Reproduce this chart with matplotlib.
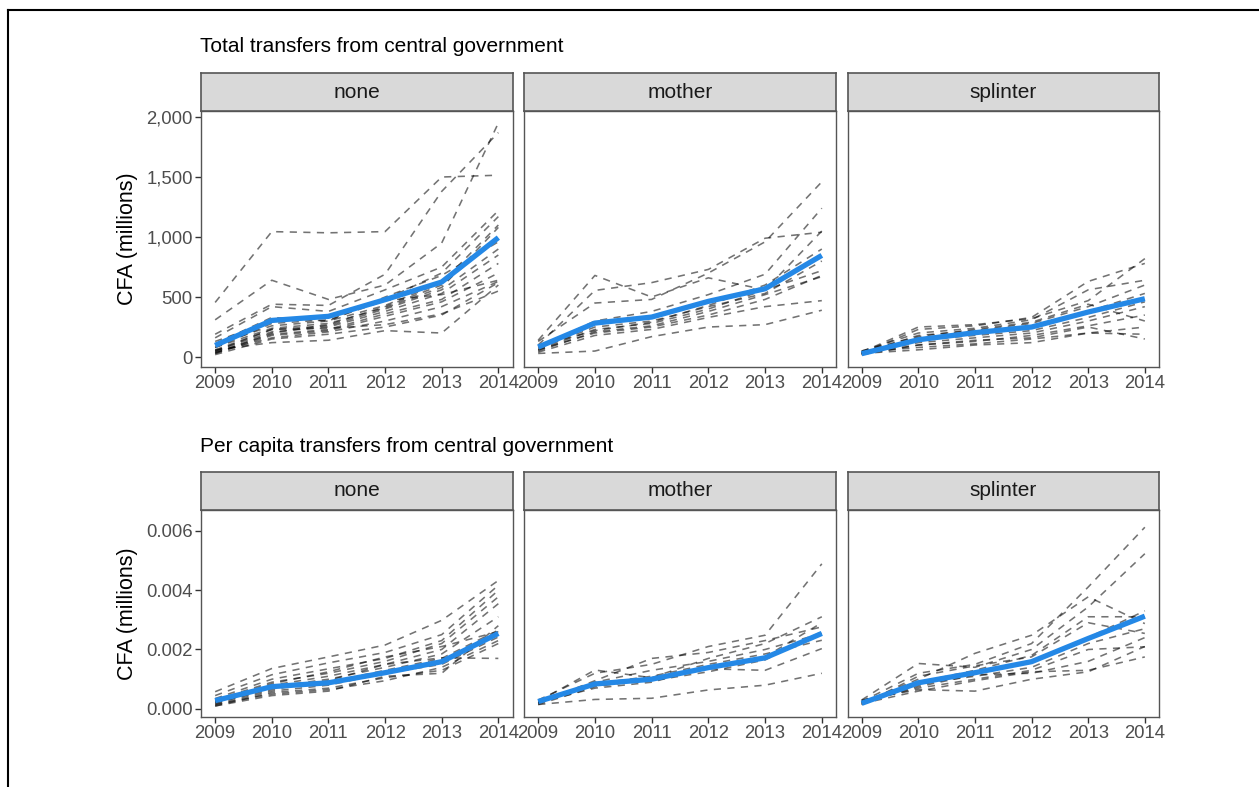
import matplotlib
matplotlib.use("Agg")
import matplotlib.pyplot as plt
from matplotlib.lines import Line2D
from matplotlib.ticker import FuncFormatter

plt.rcParams['font.family'] = ['Liberation Sans', 'DejaVu Sans']

years = [2009, 2010, 2011, 2012, 2013, 2014]
groups = ["none", "mother", "splinter"]

# Total transfers (CFA millions), one list per commune
total_none = [
    [455, 1045, 1035, 1045, 1500, 1515],
    [310, 640, 480, 600, 950, 1950],
    [190, 440, 430, 690, 1380, 1870],
    [160, 420, 380, 560, 750, 1220],
    [130, 300, 330, 480, 700, 1170],
    [100, 260, 300, 430, 620, 1100],
    [80, 240, 280, 410, 580, 1080],
    [60, 230, 260, 400, 560, 900],
    [50, 210, 250, 380, 530, 850],
    [40, 190, 230, 360, 480, 780],
    [30, 180, 220, 340, 460, 700],
    [40, 160, 210, 300, 420, 630],
    [20, 150, 190, 250, 350, 620],
    [60, 120, 140, 220, 200, 600],
    [30, 200, 270, 420, 600, 1000],
    [80, 280, 310, 470, 520, 640],
    [110, 330, 300, 500, 680, 960],
    [50, 230, 240, 270, 360, 550],
]
total_mother = [
    [130, 450, 480, 700, 960, 1460],
    [140, 680, 500, 660, 560, 1050],
    [100, 555, 620, 730, 990, 1040],
    [80, 300, 380, 520, 690, 1240],
    [60, 230, 280, 400, 560, 720],
    [50, 210, 260, 380, 520, 670],
    [40, 180, 230, 330, 420, 470],
    [30, 50, 170, 250, 270, 390],
    [70, 250, 300, 420, 530, 800],
    [60, 200, 250, 350, 480, 680],
    [90, 220, 290, 430, 600, 900],
]
total_splinter = [
    [40, 250, 270, 320, 470, 820],
    [30, 230, 260, 330, 630, 780],
    [50, 200, 240, 310, 560, 640],
    [30, 180, 220, 280, 420, 600],
    [40, 160, 200, 250, 380, 530],
    [20, 140, 180, 220, 330, 460],
    [30, 120, 160, 200, 300, 420],
    [20, 100, 130, 180, 260, 350],
    [40, 80, 110, 150, 200, 190],
    [30, 100, 140, 160, 250, 150],
    [50, 170, 230, 290, 440, 300],
    [30, 60, 100, 120, 200, 250],
]
total_mean = {
    "none": [97, 305, 339, 478, 625, 995],
    "mother": [83, 283, 333, 464, 569, 847],
    "splinter": [28, 144, 203, 250, 375, 486],
}

# Per capita transfers (CFA millions), one list per commune
pc_none = [
    [0.00058, 0.00136, 0.00175, 0.00215, 0.00298, 0.00432],
    [0.00045, 0.00115, 0.00155, 0.00190, 0.00250, 0.00416],
    [0.00035, 0.00100, 0.00135, 0.00170, 0.00230, 0.00399],
    [0.00030, 0.00090, 0.00120, 0.00160, 0.00220, 0.00377],
    [0.00025, 0.00080, 0.00110, 0.00150, 0.00200, 0.00354],
    [0.00030, 0.00075, 0.00100, 0.00140, 0.00185, 0.00310],
    [0.00020, 0.00070, 0.00090, 0.00130, 0.00170, 0.00265],
    [0.00015, 0.00060, 0.00080, 0.00120, 0.00150, 0.00242],
    [0.00010, 0.00055, 0.00070, 0.00105, 0.00130, 0.00220],
    [0.00020, 0.00065, 0.00095, 0.00150, 0.00172, 0.00170],
    [0.00025, 0.00085, 0.00125, 0.00175, 0.00210, 0.00260],
    [0.00015, 0.00050, 0.00065, 0.00095, 0.00140, 0.00230],
    [0.00010, 0.00045, 0.00060, 0.00110, 0.00120, 0.00280],
]
pc_mother = [
    [0.00030, 0.00120, 0.00150, 0.00210, 0.00248, 0.00488],
    [0.00025, 0.00131, 0.00105, 0.00170, 0.00220, 0.00310],
    [0.00020, 0.00095, 0.00170, 0.00190, 0.00230, 0.00276],
    [0.00025, 0.00090, 0.00130, 0.00160, 0.00200, 0.00254],
    [0.00020, 0.00085, 0.00110, 0.00150, 0.00185, 0.00231],
    [0.00015, 0.00075, 0.00100, 0.00135, 0.00130, 0.00203],
    [0.00020, 0.00080, 0.00095, 0.00125, 0.00165, 0.00260],
    [0.00015, 0.00032, 0.00036, 0.00064, 0.00080, 0.00120],
    [0.00022, 0.00070, 0.00090, 0.00140, 0.00175, 0.00290],
]
pc_splinter = [
    [0.00025, 0.00120, 0.00150, 0.00220, 0.00410, 0.00611],
    [0.00030, 0.00153, 0.00140, 0.00200, 0.00343, 0.00522],
    [0.00020, 0.00100, 0.00187, 0.00248, 0.00377, 0.00287],
    [0.00025, 0.00090, 0.00130, 0.00180, 0.00310, 0.00310],
    [0.00015, 0.00110, 0.00145, 0.00175, 0.00290, 0.00254],
    [0.00020, 0.00080, 0.00120, 0.00160, 0.00240, 0.00330],
    [0.00025, 0.00070, 0.00100, 0.00130, 0.00200, 0.00209],
    [0.00018, 0.00060, 0.00095, 0.00125, 0.00130, 0.00175],
    [0.00022, 0.00075, 0.00115, 0.00120, 0.00160, 0.00240],
    [0.00030, 0.00065, 0.00060, 0.00100, 0.00125, 0.00210],
    [0.00015, 0.00085, 0.00110, 0.00140, 0.00220, 0.00270],
]
pc_mean = {
    "none": [0.00028, 0.00075, 0.00088, 0.00122, 0.00159, 0.00254],
    "mother": [0.00025, 0.00084, 0.00100, 0.00139, 0.00172, 0.00254],
    "splinter": [0.00019, 0.00088, 0.00122, 0.00159, 0.00237, 0.00312],
}

total_ticks = [0, 500, 1000, 1500, 2000]
pc_ticks = [0.000, 0.002, 0.004, 0.006]

W, H = 1259, 787
fig = plt.figure(figsize=(W / 100, H / 100), dpi=100)

def px_axes(x0, y0, x1, y1):
    return fig.add_axes([x0 / W, 1 - y1 / H, (x1 - x0) / W, (y1 - y0) / H])

panel_x = [(201, 512.5), (524, 836), (847.5, 1159)]
rows = [
    dict(title="Total transfers from central government", strip=(73, 111), panel=(111, 367),
         data=[total_none, total_mother, total_splinter], mean=total_mean,
         ylim=(-83, 2050), ticks=total_ticks, fmt=lambda v, p: f"{int(v):,}", title_y=47),
    dict(title="Per capita transfers from central government", strip=(472, 510), panel=(510, 717),
         data=[pc_none, pc_mother, pc_splinter], mean=pc_mean,
         ylim=(-0.00027, 0.00669), ticks=pc_ticks, fmt=lambda v, p: f"{v:.3f}", title_y=447),
]

border_col = "#555555"
tick_col = "#4D4D4D"
blue = "#2488E6"

for row in rows:
    sy0, sy1 = row["strip"]
    py0, py1 = row["panel"]
    for i, (g, series) in enumerate(zip(groups, row["data"])):
        x0, x1 = panel_x[i]
        ax = px_axes(x0, py0, x1, py1)
        for s in series:
            ax.plot(years, s, color="black", alpha=0.55, lw=1.15,
                    linestyle=(0, (4.5, 4)))
        ax.plot(years, row["mean"][g], color=blue, lw=3.8, solid_capstyle="butt",
                solid_joinstyle="round")
        ax.set_xlim(2009 - 0.25, 2014 + 0.25)
        ax.set_ylim(*row["ylim"])
        ax.set_xticks(years)
        ax.set_yticks(row["ticks"])
        ax.yaxis.set_major_formatter(FuncFormatter(row["fmt"]))
        ax.tick_params(axis="both", direction="out", length=4, width=1.0,
                       color="#333333", labelcolor=tick_col, labelsize=13.3, pad=2)
        if i > 0:
            ax.tick_params(axis="y", left=False, labelleft=False)
        for sp in ax.spines.values():
            sp.set_color(border_col)
            sp.set_linewidth(1.0)
        ax.set_facecolor("white")
        if i == 0:
            ax.set_ylabel("CFA (millions)", fontsize=15.5, color="black", labelpad=6)

        sax = px_axes(x0, sy0, x1, sy1)
        sax.set_facecolor("#D9D9D9")
        sax.set_xticks([])
        sax.set_yticks([])
        for sp in sax.spines.values():
            sp.set_color(border_col)
            sp.set_linewidth(1.2)
        sax.text(0.5, 0.5, g, transform=sax.transAxes, ha="center", va="center",
                 fontsize=15, color="#1A1A1A")

    fig.text(200 / W, 1 - row["title_y"] / H, row["title"], ha="left", va="center",
             fontsize=15, color="black")

# frame lines along the top and left edges
fig.add_artist(Line2D([7.5 / W, 7.5 / W], [0, 1 - 10 / H], transform=fig.transFigure,
                      color="black", lw=1.5))
fig.add_artist(Line2D([7.5 / W, 1], [1 - 10 / H, 1 - 10 / H], transform=fig.transFigure,
                      color="black", lw=1.5))

fig.savefig("out.png", dpi=100, facecolor="white")
